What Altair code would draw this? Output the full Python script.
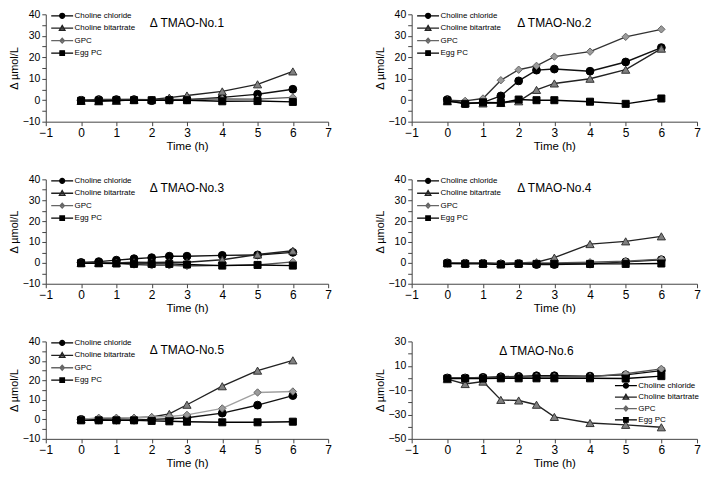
import altair as alt
import pandas as pd

# ---------------- data ----------------
time_h = [0, 0.5, 1, 1.5, 2, 2.5, 3, 4, 5, 6]
series_names = ["Choline chloride", "Choline bitartrate", "GPC", "Egg PC"]
panel_titles = ["Δ TMAO-No.1", "Δ TMAO-No.2", "Δ TMAO-No.3",
                "Δ TMAO-No.4", "Δ TMAO-No.5", "Δ TMAO-No.6"]

cc1 = [0, 0.3, 0.3, 0.3, -0.2, 0.2, 0.2, 1.3, 2.8, 5.1]
cb1 = [-0.3, -0.5, -0.3, 0.2, 0.3, 1.2, 2.2, 4.1, 7.4, 13.4]
gpc1 = [0, 0, 0.2, 0.3, 0.2, 0.3, 0.3, 0.6, 0.5, 1.3]
egg1 = [-0.3, -0.3, 0, 0, 0, 0, 0, -0.5, -0.4, -0.8]

cc2 = [0.3, -1.5, -1.0, 2.0, 9.0, 14.0, 14.5, 13.5, 17.8, 24.5]
cb2 = [-0.5, -1.2, -1.5, -1.3, -0.5, 4.8, 7.8, 10.0, 14.2, 24.0]
gpc2 = [0, -0.3, 0.8, 9.3, 14.2, 16.0, 20.3, 22.6, 29.5, 33.0]
egg2 = [-0.3, -1.7, -1.0, -1.2, 0.3, 0, 0, -0.7, -1.7, 0.8]

cc3 = [0.2, 0.6, 1.3, 2.0, 2.5, 3.2, 3.2, 3.6, 3.8, 5.0]
cb3 = [0, 0, 0, 0.3, 0.2, 0.3, 0.3, 1.5, 4.0, 5.8]
gpc3 = [0, -0.2, 0, -0.8, -1.2, -1.2, -1.5, -1.2, -1.0, 0.5]
egg3 = [-0.2, -0.2, -0.3, -0.5, -0.5, -0.5, -0.8, -1.3, -1.0, -1.3]

cc4 = [0, -0.2, -0.2, -0.5, -0.3, -0.8, -0.8, -0.5, 0.5, 1.5]
cb4 = [0, 0, -0.2, -0.3, 0, 0.3, 2.5, 9.0, 10.3, 12.7]
gpc4 = [0, 0, 0, -0.3, 0, 0, 0, 0.3, 0.8, 1.8]
egg4 = [-0.3, -0.5, -0.5, -0.8, -0.5, -0.5, -0.5, -0.5, -0.5, -0.3]

cc5 = [0, -0.2, -0.3, -0.3, 0, 0.3, 0.8, 3.2, 7.3, 12.2]
cb5 = [0, 0.5, 0.5, 0.8, 1.2, 2.8, 7.5, 17.0, 25.0, 30.3]
gpc5 = [0, 0.8, 0.8, 0.8, 1.2, 1.5, 2.3, 5.6, 13.8, 14.3]
egg5 = [-0.5, -0.5, -0.5, -0.5, -0.8, -1.0, -1.2, -1.5, -1.5, -1.2]

cc6 = [0, 0, 0.5, 1.0, 1.3, 1.8, 1.8, 1.5, 2.5, 6.0]
cb6 = [-1, -5, -3, -18, -18.5, -22, -32, -37, -38.5, -40.5]
gpc6 = [0, 0, 0.3, 0.5, 0.8, 1.0, 1.0, 1.0, 3.5, 7.5]
egg6 = [-0.5, -0.5, -0.5, -0.3, -0.3, -0.3, -0.3, -0.3, -0.5, 1.5]

x_ticks = [-1 + 0.5 * i for i in range(17)]
y_ticks_a = [-10 + 5 * i for i in range(11)]
y_ticks_b = [-50 + 10 * i for i in range(9)]

# ---------------- style ----------------
FONT = "Liberation Sans"

styles = {
    "Choline chloride": dict(line="#111111", shape="circle", fill="#000000", stroke="#000000", size=62),
    "Choline bitartrate": dict(line="#222222", shape="triangle-up", fill="#808080", stroke="#333333", size=68),
    "GPC": dict(line="#555555", shape="diamond", fill="#9a9a9a", stroke="#666666", size=55),
    "Egg PC": dict(line="#000000", shape="square", fill="#000000", stroke="#000000", size=50),
}
# legend glyphs: a short line with the marker on it (units of sqrt(size)/2 px)
legend_paths = [
    "M-2.45,0H2.45M0.55,0A0.55,0.55,0,1,1,-0.55,0A0.55,0.55,0,1,1,0.55,0Z",
    "M-2.45,0H2.45M0,-0.62L0.62,0.45L-0.62,0.45Z",
    "M-2.45,0H2.45M0,-0.55L0.5,0L0,0.55L-0.5,0Z",
    "M-2.45,0H2.45M-0.5,-0.5H0.5V0.5H-0.5Z",
]
legend_fills = [styles[s]["fill"] for s in series_names]
legend_strokes = ["#000000", "#222222", "#666666", "#000000"]


def panel(title, values, width, height, ydom, yvals, ylabel_expr, lx, ly,
          tdy=0, tdx=0, gpc_line="#555555", row_pad=1.5):
    rows = []
    for s, vals in zip(series_names, values):
        for t, v in zip(time_h, vals):
            rows.append({"time": t, "value": v, "series": s})
    df = pd.DataFrame(rows)

    x = alt.X("time:Q",
              scale=alt.Scale(domain=[-1, 7], nice=False, zero=False),
              axis=alt.Axis(values=x_ticks, format="d",
                            labelExpr="datum.value % 1 == 0 ? datum.label : ''",
                            title="Time (h)", grid=False, labelFlush=False, labelOverlap=False,
                            labelFont=FONT, labelFontSize=12, labelPadding=2,
                            titleFont=FONT, titleFontSize=11.5, titlePadding=2,
                            titleFontWeight="normal"))
    y = alt.Y("value:Q",
              scale=alt.Scale(domain=ydom, nice=False, zero=False),
              axis=alt.Axis(values=yvals, format="d", labelExpr=ylabel_expr, title="Δ µmol/L", grid=False,
                            labelFlush=False, labelOverlap=False,
                            labelFont=FONT, labelFontSize=10.5, labelPadding=2,
                            titleFont=FONT, titleFontSize=11, titlePadding=3,
                            titleFontWeight="normal"))
    layers = []
    for s in series_names:
        st = styles[s]
        lc = gpc_line if s == "GPC" else st["line"]
        base = alt.Chart(df).transform_filter(alt.datum.series == s).encode(x=x, y=y)
        layers.append(base.mark_line(color=lc, strokeWidth=1.4))
        layers.append(base.mark_point(shape=st["shape"], filled=True, fill=st["fill"],
                                      stroke=st["stroke"], strokeWidth=1, size=st["size"], opacity=1))

    leg = alt.Legend(orient="none", legendX=lx, legendY=ly, title=None,
                     symbolSize=81, symbolStrokeWidth=1.3, symbolOpacity=1,
                     labelFont=FONT, labelFontSize=8, labelColor="#000000",
                     labelOffset=7, rowPadding=row_pad, padding=0)
    legend_layer = alt.Chart(df).transform_filter("false").mark_point(filled=True, opacity=1).encode(
        shape=alt.Shape("series:N", scale=alt.Scale(domain=series_names, range=legend_paths), legend=leg),
        fill=alt.Fill("series:N", scale=alt.Scale(domain=series_names, range=legend_fills), legend=leg),
        stroke=alt.Stroke("series:N", scale=alt.Scale(domain=series_names, range=legend_strokes), legend=leg),
    )
    return alt.layer(*layers, legend_layer).properties(
        width=width, height=height,
        title=alt.TitleParams(title, anchor="middle", frame="group", offset=-21, dx=tdx, dy=tdy,
                              font=FONT, fontSize=12, fontWeight="normal", color="#000000"),
    )


la = "datum.value % 10 == 0 ? datum.label : ''"
lb = "(datum.value + 50) % 20 == 0 ? datum.label : ''"
WL, WR = 284, 287
IND = dict(shape="independent", fill="independent", stroke="independent")

p1 = panel(panel_titles[0], [cc1, cb1, gpc1, egg1], WL, 108, [-10, 40], y_ticks_a, la, 11, -4)
p2 = panel(panel_titles[1], [cc2, cb2, gpc2, egg2], WR, 108, [-10, 40], y_ticks_a, la, 11, -4,
           gpc_line="#333333")
p3 = panel(panel_titles[2], [cc3, cb3, gpc3, egg3], WL, 105, [-10, 40], y_ticks_a, la, 11, -4)
p4 = panel(panel_titles[3], [cc4, cb4, gpc4, egg4], WR, 105, [-10, 40], y_ticks_a, la, 11, -4)
p5 = panel(panel_titles[4], [cc5, cb5, gpc5, egg5], WL, 98, [-10, 40], y_ticks_a, la, 11, -4,
           gpc_line="#a0a0a0")
p6 = panel(panel_titles[5], [cc6, cb6, gpc6, egg6], WR, 98, [-50, 30], y_ticks_b, lb, 210, 39,
           tdy=1, tdx=-18, row_pad=0.5)

chart = alt.vconcat(
    alt.hconcat(p1, p2, spacing=42).resolve_scale(**IND),
    alt.hconcat(p3, p4, spacing=42).resolve_scale(**IND),
    alt.hconcat(p5, p6, spacing=42).resolve_scale(**IND),
    spacing=22,
).resolve_scale(**IND).configure(
    padding=0, background="white"
).configure_view(stroke=None).configure_axis(
    domainColor="#444444", tickColor="#444444", tickSize=4, domainWidth=1, tickWidth=1,
    labelColor="#000000", titleColor="#000000"
)

chart.save("out.html", embed_options={"renderer": "svg", "actions": False})
